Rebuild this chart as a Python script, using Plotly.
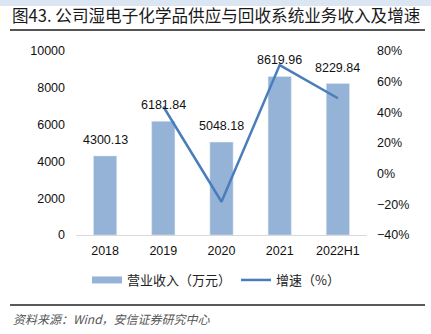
import plotly.graph_objects as go

categories = ["2018", "2019", "2020", "2021", "2022H1"]
revenue = [4300.13, 6181.84, 5048.18, 8619.96, 8229.84]
growth = [None, 43.8, -18.3, 70.8, 49.2]
revenue_labels = ["4300.13", "6181.84", "5048.18", "8619.96", "8229.84"]

W, H = 431, 334
L, R, T, B = 76, 367, 51, 235  # plot area in pixels


def px(xp):
    return (xp - L) / (R - L)


def py(yp):
    return (B - yp) / (B - T)


BAR_C = "#95B3D7"
LINE_C = "#4A7EBB"
NUM_FONT = "Liberation Sans, Arial, sans-serif"
CJK_FONT = "Noto Sans CJK SC, sans-serif"

fig = go.Figure()
fig.add_trace(go.Bar(
    x=categories, y=revenue, marker_color=BAR_C, width=0.4,
    showlegend=False, hoverinfo="skip", yaxis="y",
))
# legend swatch for bars (wide rectangle like the reference)
fig.add_trace(go.Scatter(
    x=[categories[0]], y=[None], mode="lines", name="营业收入（万元）",
    line=dict(color=BAR_C, width=7), yaxis="y",
))
fig.add_trace(go.Scatter(
    x=categories, y=growth, mode="lines", name="增速（%）",
    line=dict(color=LINE_C, width=2.5), yaxis="y2",
))

for i, (v, t) in enumerate(zip(revenue, revenue_labels)):
    fig.add_annotation(x=i, y=v, xref="x", yref="y", text=t, showarrow=False,
                       yshift=16, font=dict(family=NUM_FONT, size=12.5, color="#111"))

shapes = [
    dict(type="rect", xref="paper", yref="paper", x0=px(0), x1=px(W), y0=py(6), y1=py(0),
         fillcolor="#DCE6F2", line_width=0, layer="below"),
    dict(type="line", xref="paper", yref="paper", x0=px(10), x1=px(425), y0=py(30), y1=py(30),
         line=dict(color="#555555", width=2)),
    dict(type="line", xref="paper", yref="paper", x0=px(10), x1=px(425), y0=py(305), y1=py(305),
         line=dict(color="#222222", width=1.5)),
]

fig.add_annotation(xref="paper", yref="paper", x=px(10), y=py(15), xanchor="left", yanchor="middle",
                   text="图43. 公司湿电子化学品供应与回收系统业务收入及增速", showarrow=False,
                   font=dict(family=CJK_FONT, size=16.6, color="#1a1a1a"))
fig.add_annotation(xref="paper", yref="paper", x=px(11), y=py(318), xanchor="left", yanchor="middle",
                   text="<i>资料来源：Wind，安信证券研究中心</i>", showarrow=False,
                   font=dict(family=CJK_FONT, size=12, color="#555555"))

fig.update_layout(
    width=W, height=H,
    margin=dict(l=L, r=W - R, t=T, b=H - B),
    paper_bgcolor="white", plot_bgcolor="white",
    shapes=shapes,
    bargap=0.6,
    xaxis=dict(type="category", categoryorder="array", categoryarray=categories,
               range=[-0.5, len(categories) - 0.5], autorange=False,
               showline=True, linecolor="#D9D9D9", linewidth=1, showgrid=False,
               ticks="", tickfont=dict(family=NUM_FONT, size=12.5, color="#111"),
               ticklabelstandoff=4),
    yaxis=dict(range=[0, 10000], dtick=2000, tickformat="d", showgrid=False, zeroline=False,
               tickfont=dict(family=NUM_FONT, size=12.5, color="#111"), ticklabelstandoff=10),
    yaxis2=dict(range=[-40, 80], dtick=20, ticksuffix="%", overlaying="y", side="right",
                showgrid=False, zeroline=False,
                tickfont=dict(family=NUM_FONT, size=12.5, color="#111"), ticklabelstandoff=9),
    legend=dict(orientation="h", x=px(216), xanchor="center", y=py(280), yanchor="middle",
                font=dict(family=CJK_FONT, size=13, color="#222"), itemwidth=30,
                bgcolor="rgba(0,0,0,0)", tracegroupgap=0),
)

fig.write_html("out.html")
